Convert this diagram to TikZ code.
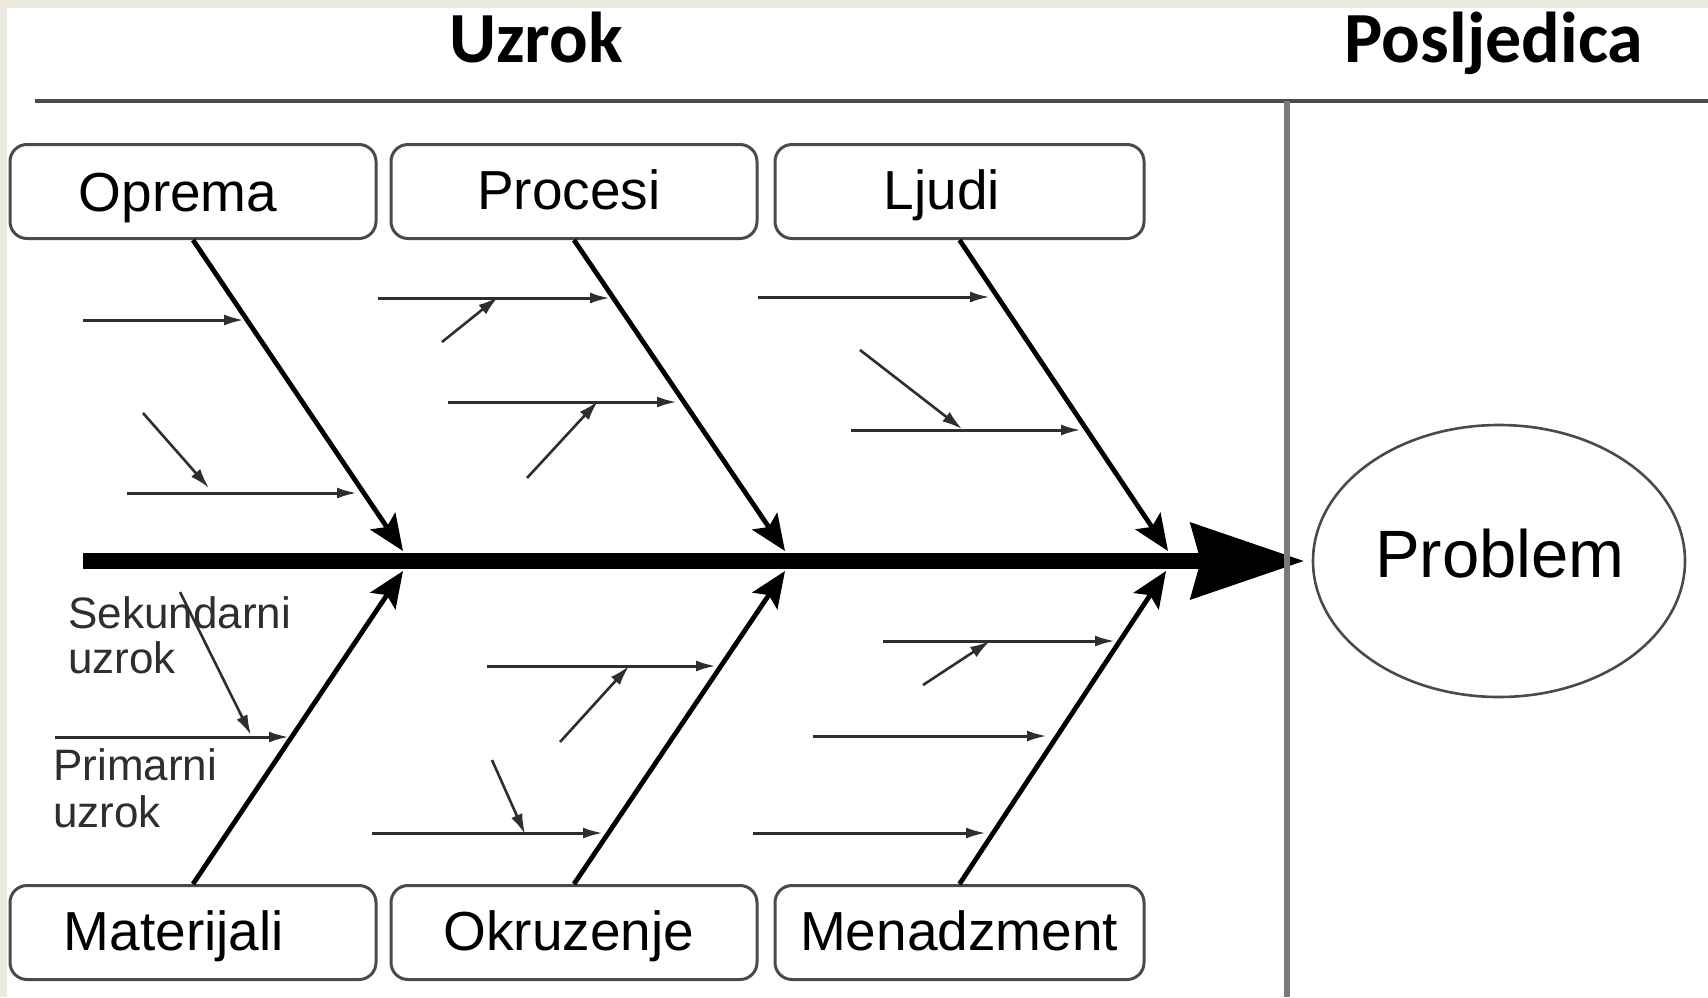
\documentclass[tikz,border=0pt]{standalone}
\usepackage{fontspec}
\setmainfont{Liberation Sans}
\newfontfamily\titlefont{Carlito}
\usetikzlibrary{arrows.meta,shapes.geometric}
\definecolor{beige}{HTML}{ECE9DF}
\definecolor{boxgray}{HTML}{4A4A4A}
\definecolor{linegray}{HTML}{7A7A7A}
\definecolor{subgray}{HTML}{2E2E2E}
\begin{document}
\begin{tikzpicture}[x=0.5pt,y=-0.5pt,
  catbox/.style={draw=boxgray, line width=1.5pt, rounded corners=8.5pt, fill=white, inner sep=0pt, minimum width=183pt, minimum height=47pt},
  catlabel/.style={anchor=base, font=\fontsize{27.5}{30}\selectfont, inner sep=0pt},
  bone/.style={line width=2.4pt, -{Stealth[length=18pt,width=15pt,inset=3.5pt]}},
  subbone/.style={draw=subgray, line width=1.5pt, -{Latex[length=10pt,width=5.5pt]}},
  subdiag/.style={draw=subgray, line width=1.3pt, -{Latex[length=10pt,width=6pt]}},
  note/.style={anchor=base west, font=\fontsize{22}{24}\selectfont, text=subgray, inner sep=0pt},
  title/.style={anchor=base, font=\titlefont\bfseries\fontsize{36}{40}\selectfont, inner sep=0pt}
]
% background
\fill[beige] (0,0) rectangle (1708,997);
\fill[white] (7,8) rectangle (1708,997);
\useasboundingbox (0,0) rectangle (1708,997);

% titles and frame lines
\node[title] (uzrok) at (536,62) {Uzrok};
\node[title] (posljedica) at (1494,62) {Posljedica};
\draw[boxgray, line width=1.8pt] (35,101) -- (1708,101);

% category boxes
\node[catbox] (oprema) at (193,191.5) {};
\node[catbox] (procesi) at (574,191.5) {};
\node[catbox, minimum width=184.5pt] (ljudi) at (959.5,191.5) {};
\node[catbox] (materijali) at (193,932.5) {};
\node[catbox] (okruzenje) at (574,932.5) {};
\node[catbox, minimum width=184.5pt] (menadzment) at (959.5,932.5) {};

\node[catlabel] (opremaT) at (178,211) {Oprema};
\node[catlabel] (procesiT) at (569,209) {Procesi};
\node[catlabel] (ljudiT) at (942,209) {Ljudi};
\node[catlabel] (materijaliT) at (174,950) {Materijali};
\node[catlabel] (okruzenjeT) at (569,950) {Okruzenje};
\node[catlabel] (menadzmentT) at (959,950) {Menadzment};

% effect
\node[ellipse, draw=boxgray, line width=1.3pt, minimum width=186pt, minimum height=136pt, inner sep=0pt] (problem) at (1499,561) {};
\node[anchor=base, inner sep=0pt, font=\fontsize{33.5}{36}\selectfont] (problemT) at (1500,577) {Problem};

% spine
\coordinate (spineL) at (83,561);
\draw[line width=8pt, -{Stealth[length=57pt,width=39pt,inset=5.5pt,line width=0pt]}, shorten >=4pt] (spineL) -- (problem.west);
\draw[linegray, line width=2.8pt] (1287,101) -- (1287,997);

% main bones
\coordinate (tipO) at (403,551);
\coordinate (tipP) at (785,551);
\coordinate (tipL) at (1168,551);
\coordinate (tipM) at (403,571);
\coordinate (tipK) at (785,571);
\coordinate (tipN) at (1166,571);
\draw[bone] (oprema.south) -- (tipO);
\draw[bone] (procesi.south) -- (tipP);
\draw[bone] (ljudi.south) -- (tipL);
\draw[bone] (materijali.north) -- (tipM);
\draw[bone] (okruzenje.north) -- (tipK);
\draw[bone] (menadzment.north) -- (tipN);

% Oprema sub-causes
\draw[subbone] (83,320) -- (244,320);
\draw[subbone] (127,493) -- (357,493);
\draw[subdiag] (143,413) -- (209,488);
% Procesi
\draw[subbone] (378,298) -- (610,298);
\draw[subdiag] (442,342) -- (498,297);
\draw[subbone] (448,402) -- (677,402);
\draw[subdiag] (527,478) -- (598,401);
% Ljudi
\draw[subbone] (758,297) -- (990,297);
\draw[subdiag] (860,350) -- (962,429);
\draw[subbone] (851,430) -- (1081,430);

% notes
\node[note] (sek1) at (68,628) {Sekundarni};
\node[note] (sek2) at (68,673) {uzrok};
\node[note] (prim1) at (53,780) {Primarni};
\node[note] (prim2) at (53,827) {uzrok};

% Materijali
\draw[subbone] (55,737) -- (289,737);
\draw[subdiag] (180,592) -- (251,735);
% Okruzenje
\draw[subbone] (487,666) -- (716,666);
\draw[subdiag] (560,742) -- (629,666);
\draw[subdiag] (492,760) -- (525,834);
\draw[subbone] (372,833) -- (603,833);
% Menadzment
\draw[subbone] (883,641) -- (1115,641);
\draw[subdiag] (923,685) -- (990,641);
\draw[subbone] (813,736) -- (1047,736);
\draw[subbone] (753,833) -- (986,833);
\end{tikzpicture}
\end{document}
